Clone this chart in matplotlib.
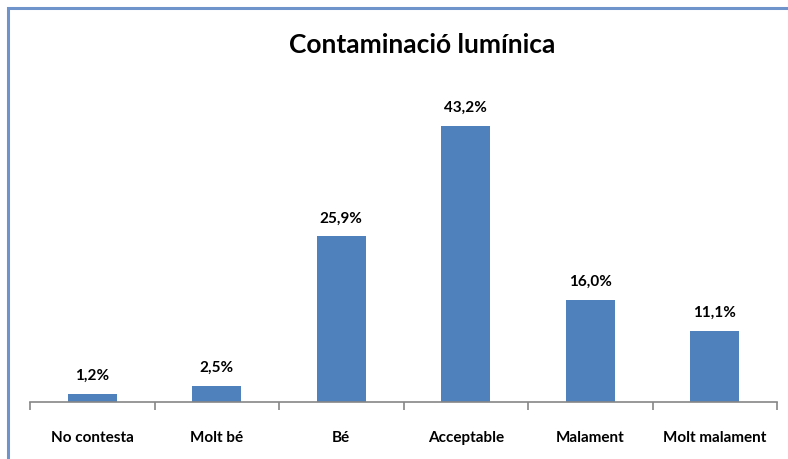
import matplotlib
matplotlib.use("Agg")
import matplotlib.pyplot as plt
from matplotlib.patches import Rectangle

categories = ["No contesta", "Molt bé", "Bé", "Acceptable", "Malament", "Molt malament"]
values = [1.2, 2.5, 25.9, 43.2, 16.0, 11.1]
labels = ["1,2%", "2,5%", "25,9%", "43,2%", "16,0%", "11,1%"]

plt.rcParams['font.family'] = ['Lato', 'DejaVu Sans']

W, H = 788, 460
fig = plt.figure(figsize=(W / 100, H / 100), dpi=100)

# outer frame (cut off at right/bottom like the screenshot)
fig.patches.append(Rectangle((8 / W, -0.1), 1.2, 1 - 9 / H + 0.1, transform=fig.transFigure,
                             fill=False, edgecolor="#6F93CB", linewidth=2.2))

top_y = 403 - 50 * 6.39
ax = fig.add_axes([30 / W, 1 - 403 / H, 747 / W, (403 - top_y) / H])
x = list(range(len(categories)))
ax.bar(x, values, width=0.39, color="#4F81BD", zorder=2)
ax.set_xlim(-0.5, len(categories) - 0.5)
ax.set_ylim(0, 50)

for xi, v, lab in zip(x, values, labels):
    ax.text(xi, v + 1.9, lab, ha="center", va="bottom", fontsize=11, fontweight="bold")

for s in ["top", "right", "left"]:
    ax.spines[s].set_visible(False)
ax.spines["bottom"].set_color("#868686")
ax.spines["bottom"].set_linewidth(1.2)
ax.set_yticks([])
ax.set_xticks([i - 0.5 for i in range(len(categories) + 1)])
ax.set_xticklabels([])
ax.set_xticks(x, minor=True)
ax.set_xticklabels(categories, minor=True, fontsize=11, fontweight="bold")
ax.tick_params(axis="x", which="major", length=6, color="#868686", width=1.2)
ax.tick_params(axis="x", which="minor", length=0, pad=20)

fig.text(422 / W, 1 - 45 / H, "Contaminació lumínica", ha="center", va="center",
         fontsize=19, fontweight="bold")

fig.savefig("out.png", dpi=100)
